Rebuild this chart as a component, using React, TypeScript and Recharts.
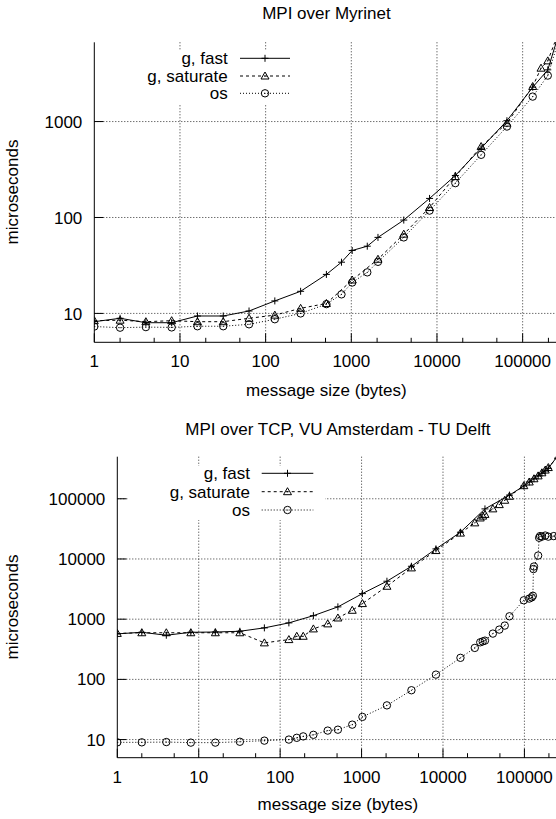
import React from 'react';
import { LineChart, Line, CartesianGrid, XAxis, YAxis, Legend } from 'recharts';

const FONT = '"Liberation Sans", Arial, Helvetica, sans-serif';
const FS = 17;

// x axis ticks, same for both plots
const xMajor = [1, 10, 100, 1000, 10000, 100000];
const xMinor = [2, 5, 20, 50, 200, 500, 2000, 5000, 20000, 50000, 200000];
const xGrid = [10, 100, 1000, 10000, 100000];

// MPI over Myrinet
const myriFastSize = [1, 2, 4, 8, 16, 32, 64, 128, 256, 512, 768, 1024, 1536, 2048, 4096, 8192, 16384, 32768, 65536, 131072, 196608, 262144];
const myriFastUs = [8.2, 8.9, 8.0, 8.0, 9.4, 9.4, 10.6, 13.5, 17, 25.5, 34.2, 45.3, 50.2, 62, 94, 158, 274, 528, 1020, 2280, 3460, 8000];
const myriSatSize = [1, 2, 4, 8, 16, 32, 64, 128, 256, 512, 1024, 2048, 4096, 8192, 16384, 32768, 65536, 131072, 163840, 196608, 262144];
const myriSatUs = [8.4, 8.5, 8.2, 8.4, 8.2, 8.2, 8.9, 9.6, 11.3, 12.7, 22.3, 36.7, 67, 127, 267, 549, 962, 2320, 3600, 4290, 8500];
const myriOsSize = [1, 2, 4, 8, 16, 32, 64, 128, 256, 512, 768, 1024, 1536, 2048, 4096, 8192, 16384, 32768, 65536, 131072, 196608, 262144];
const myriOsUs = [7.3, 7.1, 7.2, 7.15, 7.35, 7.35, 7.7, 8.7, 10, 12.5, 15.8, 21, 26.8, 34.5, 62, 118, 228, 450, 887, 1820, 3015, 7000];
const myriYTicks = [10, 100, 1000];

// MPI over TCP, VU Amsterdam - TU Delft
const tcpFastSize = [1, 2, 4, 8, 16, 32, 64, 128, 256, 512, 1024, 2048, 4096, 8192, 16384, 32768, 65536, 98304, 114688, 131072, 147456, 163840, 180224, 196608, 262144];
const tcpFastUs = [570, 606, 541, 606, 612, 630, 717, 868, 1143, 1600, 2660, 4270, 7570, 14700, 27800, 67900, 115000, 163000, 190000, 215000, 240000, 265000, 290000, 320000, 540000];
const tcpSatSize = [1, 2, 4, 8, 16, 32, 64, 128, 160, 192, 256, 384, 512, 768, 1024, 2048, 4096, 8192, 16384, 24576, 28672, 30720, 32768, 40960, 49152, 57344, 65536, 98304, 114688, 131072, 147456, 163840, 180224, 196608, 262144];
const tcpSatUs = [580, 595, 595, 595, 595, 595, 404, 458, 520, 520, 689, 836, 1047, 1405, 1815, 3520, 7110, 13800, 26900, 39800, 48000, 51500, 55000, 68000, 80000, 94500, 110000, 165000, 190000, 215000, 240000, 270000, 300000, 330000, 520000];
const tcpOsSize = [1, 2, 4, 8, 16, 32, 64, 128, 160, 192, 256, 384, 512, 768, 1024, 2048, 4096, 8192, 16384, 24576, 28672, 30720, 32768, 40960, 49152, 57344, 65536, 98304, 114688, 122880, 126976, 129024, 131072, 147456, 151552, 155648, 163840, 180224, 196608, 229376, 262144];
const tcpOsUs = [9.0, 9.0, 9.1, 8.9, 8.9, 9.2, 9.6, 10, 10.7, 11.3, 12, 14.1, 14.6, 17.7, 23.8, 37, 66, 120, 228, 333, 413, 427, 440, 576, 671, 783, 1117, 2060, 2200, 2300, 2450, 6800, 7500, 11400, 22500, 24000, 23500, 24500, 23500, 24000, 24000];
const tcpYTicks = [10, 100, 1000, 10000, 100000];

interface Pt {
  size: number;
  us: number;
}

const zip = (xs: number[], ys: number[]): Pt[] => xs.map((x, i) => ({ size: x, us: ys[i] }));

// gnuplot style point markers
const Cross = ({ cx, cy }: any) => (
  <path d={`M${cx - 3.5},${cy}H${cx + 3.5}M${cx},${cy - 3.5}V${cy + 3.5}`} stroke="#000" strokeWidth={1} />
);
const Tri = ({ cx, cy }: any) => (
  <g>
    <path d={`M${cx},${cy - 4}L${cx + 4},${cy + 3}L${cx - 4},${cy + 3}Z`} fill="none" stroke="#000" strokeWidth={1} />
    <circle cx={cx} cy={cy} r={0.6} fill="#000" />
  </g>
);
const Circ = ({ cx, cy }: any) => (
  <g>
    <circle cx={cx} cy={cy} r={3.7} fill="none" stroke="#000" strokeWidth={1} />
    <circle cx={cx} cy={cy} r={0.6} fill="#000" />
  </g>
);

const dotOf = (Marker: any) => (p: any) =>
  p.cx == null || p.cy == null ? <g key={p.index} /> : <Marker key={p.index} cx={p.cx} cy={p.cy} />;

const BottomTick = (p: any) => {
  const v = p.payload.value;
  const major = xMajor.includes(v);
  return (
    <g>
      <line x1={p.x} x2={p.x} y1={p.y} y2={p.y - (major ? 9 : 4.5)} stroke="#000" />
      {major && (
        <text x={p.x} y={p.y + 25} textAnchor="middle" fontSize={FS} fontFamily={FONT} fill="#000">
          {v}
        </text>
      )}
    </g>
  );
};
const TopTick = (p: any) => {
  const major = xMajor.includes(p.payload.value);
  return <line x1={p.x} x2={p.x} y1={p.y} y2={p.y + (major ? 9 : 4.5)} stroke="#000" />;
};
const LeftTick = (p: any) => (
  <g>
    <line x1={p.x} x2={p.x + 9} y1={p.y} y2={p.y} stroke="#000" />
    <text x={p.x - 12} y={p.y} dy="0.36em" textAnchor="end" fontSize={FS} fontFamily={FONT} fill="#000">
      {p.payload.value}
    </text>
  </g>
);
const RightTick = (p: any) => <line x1={p.x} x2={p.x - 9} y1={p.y} y2={p.y} stroke="#000" />;

interface KeyProps {
  w: number;
  h: number;
  textRight: number;
  from: number;
  to: number;
  rows: number[];
}

const KEY_ITEMS = [
  { name: 'g, fast', dash: undefined, Marker: Cross },
  { name: 'g, saturate', dash: '3 3', Marker: Tri },
  { name: 'os', dash: '1 2', Marker: Circ },
];

const KeyBox: React.FC<KeyProps> = ({ w, h, textRight, from, to, rows }) => (
  <svg width={w} height={h} style={{ display: 'block', background: '#fff', overflow: 'visible' }}>
    {KEY_ITEMS.map((it, i) => (
      <g key={it.name}>
        <text x={textRight} y={rows[i]} dy="0.36em" textAnchor="end" fontSize={FS} fontFamily={FONT} fill="#000">
          {it.name}
        </text>
        <line x1={from} x2={to} y1={rows[i]} y2={rows[i]} stroke="#000" strokeDasharray={it.dash} />
        <it.Marker cx={(from + to) / 2} cy={rows[i]} />
      </g>
    ))}
  </svg>
);

interface PanelProps {
  top: number;
  height: number;
  plotLeft: number;
  plotTop: number;
  plotBottom: number;
  yMax: number;
  yTicks: number[];
  title: string;
  titleY: number;
  xLabelY: number;
  keyPos: { left: number; top: number; w: number; h: number };
  keyLayout: { textRight: number; from: number; to: number; rows: number[] };
  fast: Pt[];
  sat: Pt[];
  os: Pt[];
}

const W = 620;
const PLOT_RIGHT = 558.5;

const Panel: React.FC<PanelProps> = (props) => {
  const { top, height, plotLeft, plotTop, plotBottom, yMax, yTicks, title, titleY, xLabelY, keyPos, keyLayout } = props;
  const midX = (plotLeft + PLOT_RIGHT) / 2;
  const midY = (plotTop + plotBottom) / 2;
  return (
    <div style={{ position: 'absolute', left: 0, top, width: W, height }}>
      <LineChart width={W} height={height} margin={{ top: plotTop, right: W - PLOT_RIGHT, bottom: 0, left: 0 }}>
        <CartesianGrid
          stroke="#333"
          strokeDasharray="1 2"
          verticalValues={xGrid}
          horizontalValues={yTicks}
        />
        <XAxis
          dataKey="size"
          type="number"
          scale="log"
          domain={[1, 262144]}
          allowDataOverflow
          ticks={[...xMajor, ...xMinor]}
          interval={0}
          height={height - plotBottom}
          tickSize={0}
          tickMargin={0}
          tickLine={false}
          tick={BottomTick}
          stroke="#000"
        />
        <XAxis
          xAxisId="t"
          orientation="top"
          dataKey="size"
          type="number"
          scale="log"
          domain={[1, 262144]}
          allowDataOverflow
          ticks={[...xMajor, ...xMinor]}
          interval={0}
          height={0}
          tickSize={0}
          tickMargin={0}
          tickLine={false}
          tick={TopTick}
          stroke="#000"
        />
        <YAxis
          type="number"
          scale="log"
          domain={[5, yMax]}
          allowDataOverflow
          ticks={yTicks}
          interval={0}
          width={plotLeft}
          tickSize={0}
          tickMargin={0}
          tickLine={false}
          tick={LeftTick}
          stroke="#000"
        />
        <YAxis
          yAxisId="r"
          orientation="right"
          type="number"
          scale="log"
          domain={[5, yMax]}
          allowDataOverflow
          ticks={yTicks}
          interval={0}
          width={0}
          tickSize={0}
          tickMargin={0}
          tickLine={false}
          tick={RightTick}
          stroke="#000"
        />
        <Line data={props.fast} dataKey="us" name="g, fast" stroke="#000" strokeWidth={1} dot={dotOf(Cross)} isAnimationActive={false} />
        <Line data={props.sat} dataKey="us" name="g, saturate" stroke="#000" strokeWidth={1} strokeDasharray="3 3" dot={dotOf(Tri)} isAnimationActive={false} />
        <Line data={props.os} dataKey="us" name="os" stroke="#000" strokeWidth={1} strokeDasharray="1 2" dot={dotOf(Circ)} isAnimationActive={false} />
        <Legend
          layout="horizontal"
          verticalAlign="middle"
          align="center"
          wrapperStyle={{ left: keyPos.left, top: keyPos.top, width: keyPos.w, height: keyPos.h, overflow: 'visible' }}
          content={() => <KeyBox w={keyPos.w} h={keyPos.h} {...keyLayout} />}
        />
      </LineChart>
      <div style={{ position: 'absolute', left: midX - 250, width: 500, top: titleY - 10, textAlign: 'center', font: `${FS}px ${FONT}`, lineHeight: '20px' }}>
        {title}
      </div>
      <div style={{ position: 'absolute', left: midX - 250, width: 500, top: xLabelY - 10, textAlign: 'center', font: `${FS}px ${FONT}`, lineHeight: '20px' }}>
        message size (bytes)
      </div>
      <div
        style={{
          position: 'absolute',
          left: 13 - 100,
          width: 200,
          top: midY - 10,
          textAlign: 'center',
          font: `${FS}px ${FONT}`,
          lineHeight: '20px',
          transform: 'rotate(-90deg)',
        }}
      >
        microseconds
      </div>
    </div>
  );
};

export default function App() {
  return (
    <div style={{ position: 'fixed', left: 0, top: 0, width: 556, height: 819, overflow: 'hidden', background: '#fff' }}>
      <Panel
        top={0}
        height={400}
        plotLeft={94.3}
        plotTop={42.3}
        plotBottom={342.3}
        yMax={6700}
        yTicks={myriYTicks}
        title="MPI over Myrinet"
        titleY={14}
        xLabelY={391}
        keyPos={{ left: 104, top: 51, w: 196, h: 54 }}
        keyLayout={{ textRight: 123.7, from: 136, to: 186, rows: [7.3, 25, 42.3] }}
        fast={zip(myriFastSize, myriFastUs)}
        sat={zip(myriSatSize, myriSatUs)}
        os={zip(myriOsSize, myriOsUs)}
      />
      <Panel
        top={400}
        height={419}
        plotLeft={117.3}
        plotTop={56.7}
        plotBottom={357.7}
        yMax={500000}
        yTicks={tcpYTicks}
        title="MPI over TCP, VU Amsterdam - TU Delft"
        titleY={30}
        xLabelY={405}
        keyPos={{ left: 128, top: 66, w: 197, h: 54 }}
        keyLayout={{ textRight: 122, from: 133.7, to: 185.3, rows: [7.3, 25.7, 44] }}
        fast={zip(tcpFastSize, tcpFastUs)}
        sat={zip(tcpSatSize, tcpSatUs)}
        os={zip(tcpOsSize, tcpOsUs)}
      />
    </div>
  );
}
